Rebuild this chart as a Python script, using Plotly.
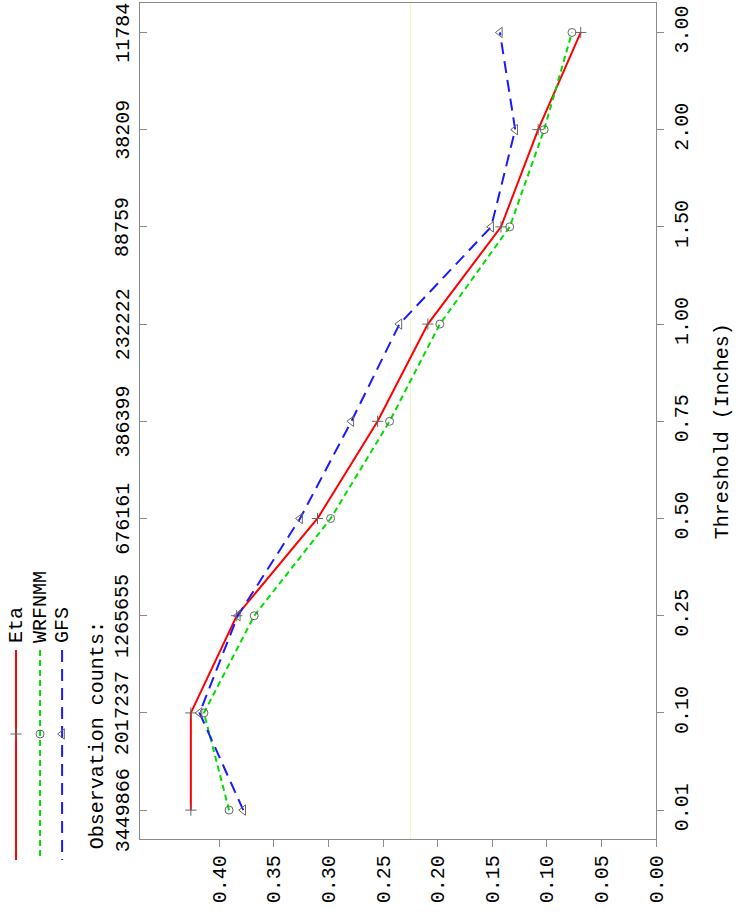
import plotly.graph_objects as go

# ---------------- data ----------------
thresholds = ["0.01", "0.10", "0.25", "0.50", "0.75", "1.00", "1.50", "2.00", "3.00"]
obs_counts = ["3449866", "2017237", "1265655", "676161", "386399", "232222", "88759", "38209", "11784"]
eta = [0.426, 0.426, 0.384, 0.310, 0.255, 0.209, 0.142, 0.108, 0.069]
wrfnmm = [0.391, 0.414, 0.368, 0.298, 0.244, 0.198, 0.134, 0.1025, 0.077]
gfs = [0.378, 0.418, 0.383, 0.326, 0.279, 0.235, 0.151, 0.129, 0.143]
value_ticks = [0.00, 0.05, 0.10, 0.15, 0.20, 0.25, 0.30, 0.35, 0.40]
ref_value = 0.225
series_names = ["Eta", "WRFNMM", "GFS"]

W, H = 747, 919
S = 0.981  # observed horizontal compression of the rendered page
FONT = "Liberation Mono"
FS = 20
pos = list(range(len(thresholds)))


def px(x):
    """screen pixel -> paper fraction, compensating the horizontal compression"""
    return x / S / W


colors = ["#ff0000", "#00dd00", "#1a1aff"]
dashes = ["solid", "6px,4px", "12px,7px"]
symbols = ["cross-thin-open", "circle-open", "triangle-left-open"]
msizes = [8, 8, 9]
mcol = "#666666"

fig = go.Figure()
for name, vals, c, d, s, ms in zip(series_names, [eta, wrfnmm, gfs], colors, dashes, symbols, msizes):
    fig.add_trace(go.Scatter(
        x=vals, y=pos, mode="lines+markers", name=name,
        line=dict(color=c, width=2, dash=d),
        marker=dict(symbol=s, size=ms, color=mcol, line=dict(color=mcol, width=1)),
        showlegend=False, xaxis="x", yaxis="y"))

# ---- hand-drawn rotated legend on a hidden pixel axis ----
leg_x = [16, 40, 62]
for name, lx, c, d, s, ms in zip(series_names, leg_x, colors, dashes, symbols, msizes):
    fig.add_trace(go.Scatter(
        x=[lx, lx], y=[650, 860], mode="lines",
        line=dict(color=c, width=2, dash=d), showlegend=False,
        xaxis="x3", yaxis="y3", hoverinfo="skip"))
    fig.add_trace(go.Scatter(
        x=[lx], y=[734], mode="markers",
        marker=dict(symbol=s, size=ms, color=mcol, line=dict(color=mcol, width=1)),
        showlegend=False, xaxis="x3", yaxis="y3", hoverinfo="skip"))
    fig.add_annotation(x=lx, y=645, xref="x3", yref="y3", text=name, textangle=-90,
                       showarrow=False, xanchor="center", yanchor="bottom",
                       font=dict(family=FONT, size=FS, color="black"))

x0p, x1p = px(139.3), px(655)
y0p, y1p = (H - 839.3) / H, (H - 3.3) / H

axis_common = dict(showgrid=False, zeroline=False, showline=True, linecolor="#8a8a8a",
                   linewidth=1, tickcolor="#8a8a8a", ticklen=7, tickwidth=1,
                   tickfont=dict(family=FONT, size=FS, color="black"))

fig.update_layout(
    width=W, height=H, margin=dict(l=0, r=0, t=0, b=0),
    paper_bgcolor="white", plot_bgcolor="white", showlegend=False,
    xaxis=dict(domain=[x0p, x1p], range=[0.473, 0.0], tickvals=value_ticks,
               ticktext=["%.2f" % v for v in value_ticks], ticks="outside",
               tickangle=-90, mirror=True, anchor="y", **axis_common),
    yaxis=dict(domain=[y0p, y1p], range=[-0.3, len(thresholds) - 0.7], tickvals=pos,
               ticktext=thresholds, side="right", ticks="outside", tickangle=-90,
               mirror=True, anchor="x", **axis_common),
    yaxis2=dict(overlaying="y", side="left", range=[-0.3, len(thresholds) - 0.7],
                tickvals=pos, ticks="inside", ticklen=7, tickcolor="#8a8a8a",
                showticklabels=False, showgrid=False, zeroline=False, showline=False,
                anchor="x"),
    xaxis3=dict(domain=[0, 0.12], range=[0, 0.12 * W * S], visible=False, anchor="y3"),
    yaxis3=dict(domain=[0, 1], range=[H, 0], visible=False, anchor="x3"),
)

fig.add_trace(go.Scatter(x=[None], y=[None], xaxis="x", yaxis="y2", showlegend=False))

# faint reference line
fig.add_shape(type="line", x0=ref_value, x1=ref_value, y0=0, y1=1, xref="x", yref="y domain",
              line=dict(color="#f2f2c4", width=1), layer="below")

# observation counts
fig.add_annotation(x=px(97), y=1 - 735 / H, xref="paper", yref="paper",
                   text="Observation counts:", textangle=-90, showarrow=False,
                   xanchor="center", yanchor="middle",
                   font=dict(family=FONT, size=FS, color="black"))
for p, cnt in zip(pos, obs_counts):
    fig.add_annotation(x=px(123), y=p, xref="paper", yref="y", text=cnt, textangle=-90,
                       showarrow=False, xanchor="center", yanchor="middle",
                       font=dict(family=FONT, size=FS, color="black"))

# axis title
fig.add_annotation(x=735 / W, y=1 - 431 / H, xref="paper", yref="paper",
                   text="Threshold (Inches)", textangle=-90, showarrow=False,
                   xanchor="center", yanchor="middle", borderpad=0,
                   font=dict(family=FONT, size=FS, color="black"))

fig.write_html("out.html")
